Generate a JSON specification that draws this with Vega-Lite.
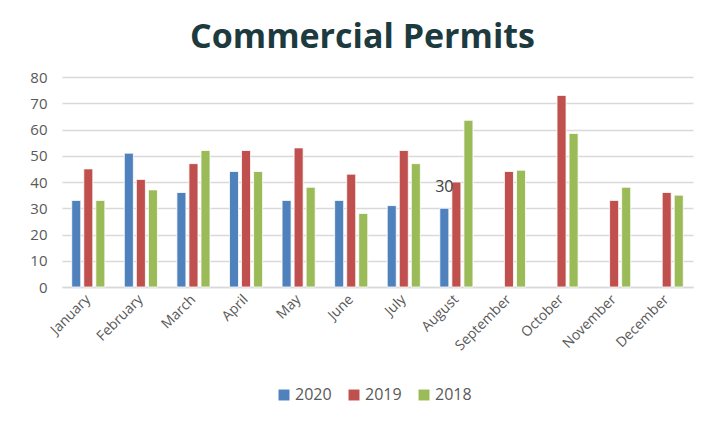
{
  "$schema": "https://vega.github.io/schema/vega-lite/v6.json",
  "autosize": "none",
  "width": 631,
  "height": 210,
  "padding": {"left": 62, "top": 77, "right": 12, "bottom": 140},
  "background": "white",
  "title": {
    "text": "Commercial Permits",
    "font": "Open Sans",
    "fontSize": 34,
    "fontWeight": 700,
    "color": "#1d3a3f",
    "anchor": "middle",
    "dx": -15,
    "offset": 15
  },
  "data": {
    "values": [
      {"month": "January", "year": "2020", "permits": 33},
      {"month": "January", "year": "2019", "permits": 45},
      {"month": "January", "year": "2018", "permits": 33},
      {"month": "February", "year": "2020", "permits": 51},
      {"month": "February", "year": "2019", "permits": 41},
      {"month": "February", "year": "2018", "permits": 37},
      {"month": "March", "year": "2020", "permits": 36},
      {"month": "March", "year": "2019", "permits": 47},
      {"month": "March", "year": "2018", "permits": 52},
      {"month": "April", "year": "2020", "permits": 44},
      {"month": "April", "year": "2019", "permits": 52},
      {"month": "April", "year": "2018", "permits": 44},
      {"month": "May", "year": "2020", "permits": 33},
      {"month": "May", "year": "2019", "permits": 53},
      {"month": "May", "year": "2018", "permits": 38},
      {"month": "June", "year": "2020", "permits": 33},
      {"month": "June", "year": "2019", "permits": 43},
      {"month": "June", "year": "2018", "permits": 28},
      {"month": "July", "year": "2020", "permits": 31},
      {"month": "July", "year": "2019", "permits": 52},
      {"month": "July", "year": "2018", "permits": 47},
      {"month": "August", "year": "2020", "permits": 30, "label": "30"},
      {"month": "August", "year": "2019", "permits": 40},
      {"month": "August", "year": "2018", "permits": 63.5},
      {"month": "September", "year": "2019", "permits": 44},
      {"month": "September", "year": "2018", "permits": 44.5},
      {"month": "October", "year": "2019", "permits": 73},
      {"month": "October", "year": "2018", "permits": 58.5},
      {"month": "November", "year": "2019", "permits": 33},
      {"month": "November", "year": "2018", "permits": 38},
      {"month": "December", "year": "2019", "permits": 36},
      {"month": "December", "year": "2018", "permits": 35}
    ]
  },
  "encoding": {
    "x": {
      "field": "month",
      "type": "nominal",
      "sort": ["January","February","March","April","May","June","July","August","September","October","November","December"],
      "scale": {"paddingInner": 0.37, "paddingOuter": 0.185},
      "axis": {
        "title": null,
        "labelAngle": -45,
        "labelAlign": "right",
        "labelBaseline": "middle",
        "labelPadding": 10,
        "labelFont": "Open Sans",
        "labelFontSize": 14,
        "labelColor": "#595959",
        "ticks": false,
        "domain": true,
        "domainColor": "#d9d9d9",
        "domainWidth": 1.5,
        "grid": false
      }
    },
    "xOffset": {
      "field": "year",
      "type": "nominal",
      "sort": ["2020", "2019", "2018"],
      "scale": {"domain": ["2020", "2019", "2018"], "paddingInner": 0.25}
    },
    "y": {
      "field": "permits",
      "type": "quantitative",
      "scale": {"domain": [0, 80]},
      "axis": {
        "title": null,
        "values": [0,10,20,30,40,50,60,70,80],
        "labelFont": "Open Sans",
        "labelFontSize": 15,
        "labelColor": "#595959",
        "labelPadding": 15,
        "ticks": false,
        "domain": false,
        "gridColor": "#d9d9d9",
        "gridWidth": 1.5
      }
    }
  },
  "layer": [
    {
      "mark": {"type": "bar", "stroke": "white", "strokeWidth": 0.8},
      "encoding": {
        "color": {
          "field": "year",
          "type": "nominal",
          "sort": ["2020", "2019", "2018"],
          "scale": {"domain": ["2020", "2019", "2018"], "range": ["#4f81bd", "#c0504d", "#9bbb59"]},
          "legend": {
            "title": null,
            "orient": "none",
            "direction": "horizontal",
            "legendX": 214,
            "legendY": 310,
            "symbolType": "square",
            "symbolSize": 120,
            "symbolStrokeWidth": 0,
            "symbolOpacity": 1,
            "labelFont": "Open Sans",
            "labelFontSize": 16,
            "labelColor": "#595959",
            "labelOffset": 3,
            "columnPadding": 14
          }
        }
      }
    },
    {
      "transform": [{"filter": "isValid(datum.label)"}],
      "mark": {"type": "text", "font": "Open Sans", "fontSize": 16, "color": "#404040", "dy": -21},
      "encoding": {
        "text": {"field": "label"}
      }
    }
  ],
  "config": {"view": {"stroke": null}}
}
